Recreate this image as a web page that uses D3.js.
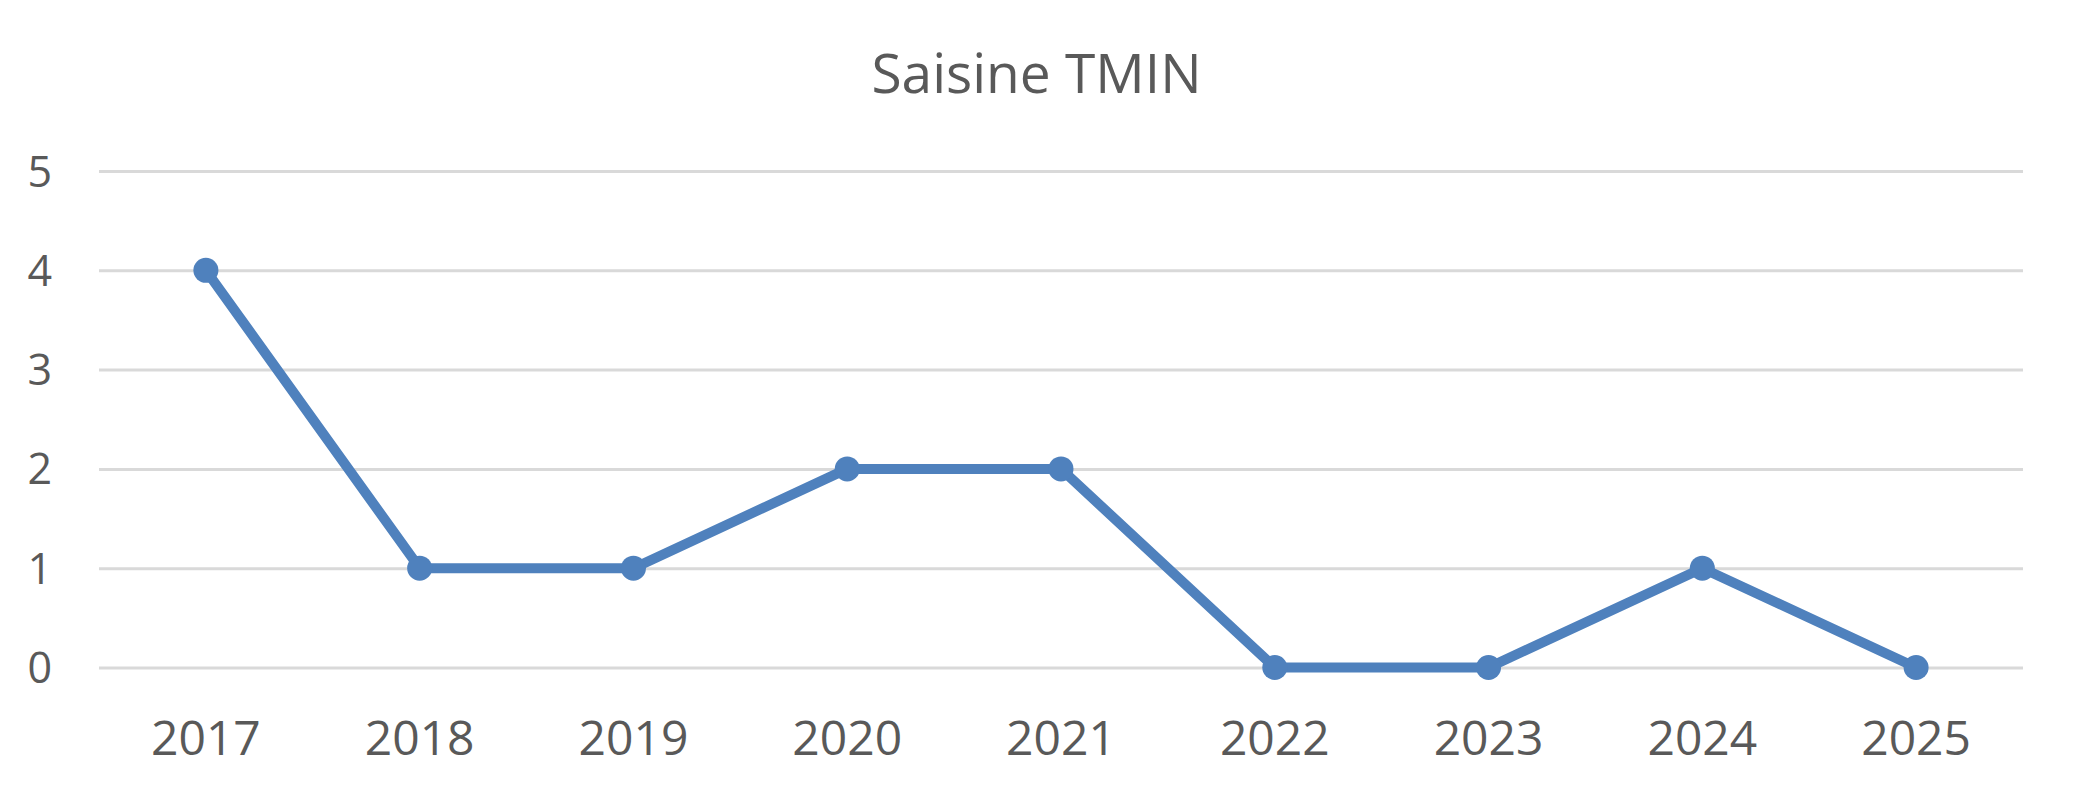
<!DOCTYPE html>
<html><head><meta charset="utf-8">
<script src="https://cdn.jsdelivr.net/npm/d3@7"></script>
<style>html,body{margin:0;padding:0;background:#fff;}svg{display:block;}</style>
</head><body>
<svg id="chart" width="2073" height="800"></svg>
<script>
const title = "Saisine TMIN";
const years = ["2017","2018","2019","2020","2021","2022","2023","2024","2025"];
const values = [4, 1, 1, 2, 2, 0, 0, 1, 0];
const yTicks = [0, 1, 2, 3, 4, 5];

(function () {
const svg = d3.select("#chart");
const W = 2073, H = 800;
const mLeft = 99, mRight = 2023, mTop = 171, mBottom = 667.5;
const font = "'Open Sans', 'Liberation Sans', sans-serif";
const textColor = "#595959";

const x = d3.scaleBand().domain(years).range([mLeft, mRight]).padding(0);
const y = d3.scaleLinear().domain([0, 5]).range([mBottom, mTop]);

svg.append("rect").attr("width", W).attr("height", H).attr("fill", "#fff");

svg.append("text").attr("x", W / 2).attr("y", 92.5)
  .attr("text-anchor", "middle").attr("font-family", font).attr("font-size", 55)
  .attr("fill", textColor).text(title);

const yAxis = d3.axisLeft(y).tickValues(yTicks).tickSize(-(mRight - mLeft)).tickFormat(d3.format("d"));
const gy = svg.append("g").attr("transform", `translate(${mLeft},0)`).call(yAxis);
gy.select(".domain").remove();
gy.selectAll(".tick line").attr("stroke", "#d9d9d9").attr("stroke-width", 3);
gy.selectAll(".tick text").attr("x", -47).attr("dy", null).attr("y", 15)
  .attr("font-family", font).attr("font-size", 43).attr("fill", textColor)
  .attr("text-anchor", "end");

const xAxis = d3.axisBottom(x).tickSize(0);
const gx = svg.append("g").attr("transform", `translate(0,${mBottom})`).call(xAxis);
gx.select(".domain").remove();
gx.selectAll(".tick text").attr("y", 87.5).attr("dy", null)
  .attr("font-family", font).attr("font-size", 48).attr("fill", textColor);

const cx = d => x(d) + x.bandwidth() / 2;
const line = d3.line().x((d, i) => cx(years[i])).y(d => y(d));
svg.append("path").datum(values).attr("d", line)
  .attr("fill", "none").attr("stroke", "#4f81bd").attr("stroke-width", 10)
  .attr("stroke-linejoin", "round");

svg.selectAll("circle.pt").data(values).enter().append("circle")
  .attr("class", "pt").attr("cx", (d, i) => cx(years[i])).attr("cy", d => y(d))
  .attr("r", 12.5).attr("fill", "#4f81bd");
})();
</script>
</body></html>
